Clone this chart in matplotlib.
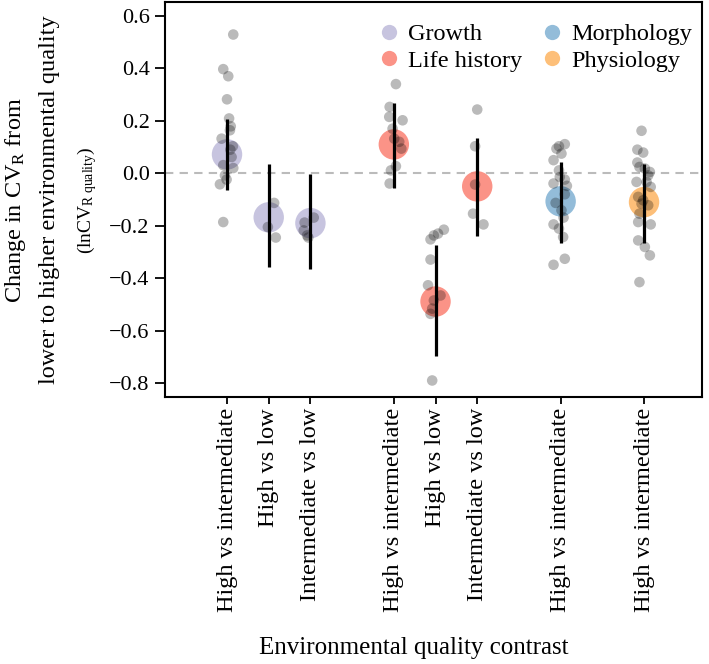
import matplotlib
matplotlib.use("Agg")
import matplotlib.pyplot as plt
from matplotlib.lines import Line2D

plt.rcParams['font.family'] = ['Liberation Serif', 'DejaVu Serif']
plt.rcParams['mathtext.fontset'] = 'custom'
plt.rcParams['mathtext.rm'] = 'Liberation Serif'
plt.rcParams['mathtext.it'] = 'Liberation Serif:italic'
plt.rcParams['axes.unicode_minus'] = True

# Data
positions = [1, 2, 3, 5, 6, 7, 9, 11]
tick_labels = ["High vs intermediate", "High vs low", "Intermediate vs low",
               "High vs intermediate", "High vs low", "Intermediate vs low",
               "High vs intermediate", "High vs intermediate"]
traits = ["Growth", "Growth", "Growth",
          "Life history", "Life history", "Life history",
          "Morphology", "Physiology"]
means = [0.072, -0.168, -0.190, 0.110, -0.489, -0.050, -0.107, -0.110]
ci_lo = [-0.065, -0.359, -0.366, -0.058, -0.698, -0.240, -0.264, -0.267]
ci_hi = [0.206, 0.034, -0.004, 0.267, -0.275, 0.134, 0.042, 0.034]

# individual effect sizes (y) and horizontal jitter
g1_y = [0.529, 0.397, 0.370, 0.282, 0.209, 0.179, 0.164, 0.132, 0.103, 0.062,
        0.031, 0.020, -0.008, -0.024, -0.042, -0.186, 0.090]
g1_dx = [0.15, -0.09, 0.03, 0.0, 0.05, 0.09, 0.07, -0.13, 0.14, 0.11,
         -0.09, 0.15, -0.05, -0.01, -0.17, -0.09, 0.08]
g2_y = [-0.113, -0.205, -0.245]
g2_dx = [0.13, -0.02, 0.17]
g3_y = [-0.169, -0.188, -0.218, -0.237, -0.245]
g3_dx = [0.08, -0.14, -0.16, -0.08, -0.05]
g4_y = [0.340, 0.253, 0.215, 0.202, 0.170, 0.132, 0.120, 0.094, 0.027, 0.011, -0.039]
g4_dx = [0.05, -0.10, -0.11, 0.21, -0.03, 0.01, 0.13, 0.18, 0.05, -0.07, -0.10]
g5_y = [-0.215, -0.230, -0.237, -0.252, -0.329, -0.427, -0.466, -0.485, -0.516,
        -0.536, -0.790]
g5_dx = [0.20, 0.06, -0.04, -0.12, -0.12, -0.18, 0.12, -0.04, -0.08, -0.12, -0.08]
g6_y = [0.243, 0.103, -0.043, -0.154, -0.195]
g6_dx = [0.0, -0.05, -0.05, -0.10, 0.15]
g7_y = [0.111, 0.103, 0.094, 0.075, 0.050, 0.011, -0.014, -0.024, -0.039, -0.048,
        -0.080, -0.113, -0.141, -0.169, -0.195, -0.211, -0.243, -0.326, -0.349]
g7_dx = [0.10, -0.04, -0.10, 0.02, -0.17, -0.04, -0.02, 0.10, -0.17, 0.15,
         0.10, -0.12, 0.02, 0.07, -0.17, -0.04, 0.06, 0.10, -0.17]
g8_y = [0.162, 0.090, 0.079, 0.041, 0.024, 0.018, 0.005, -0.008, -0.033, -0.033,
        -0.052, -0.090, -0.103, -0.116, -0.122, -0.154, -0.186, -0.195, -0.256,
        -0.281, -0.313, -0.415]
g8_dx = [-0.06, -0.16, -0.02, -0.16, -0.11, 0.02, 0.14, 0.10, -0.18, 0.06,
         0.16, -0.14, -0.02, -0.06, 0.10, -0.11, -0.14, 0.16, -0.14, 0.02,
         0.14, -0.11]

points_y = [g1_y, g2_y, g3_y, g4_y, g5_y, g6_y, g7_y, g8_y]
points_dx = [g1_dx, g2_dx, g3_dx, g4_dx, g5_dx, g6_dx, g7_dx, g8_dx]

trait_colors = {"Growth": "#BEBADA", "Life history": "#FB8072",
                "Morphology": "#80B1D3", "Physiology": "#FDB462"}
legend_order = ["Growth", "Life history", "Morphology", "Physiology"]

fig = plt.figure(figsize=(7.09, 6.64), dpi=100)
ax = fig.add_axes([165 / 709, 1 - 397 / 664, (702 - 165) / 709, (397 - 2) / 664])

ax.axhline(0, color="#bbbbbb", lw=1.5, ls=(0, (4, 3)), zorder=0)

for pos, tr, m, lo, hi, ys, dxs in zip(positions, traits, means, ci_lo, ci_hi,
                                       points_y, points_dx):
    ax.scatter([pos], [m], s=480, color=trait_colors[tr], alpha=0.85,
               edgecolors="none", zorder=2)
    ax.vlines(pos, lo, hi, color="black", lw=2.3, zorder=3)
    ax.scatter([pos + d for d in dxs], ys, s=58, color="black", alpha=0.27,
               edgecolors="none", zorder=4)

ax.set_xlim(-0.487, 12.39)
ax.set_ylim(-0.853, 0.653)
ax.set_yticks([-0.8, -0.6, -0.4, -0.2, 0.0, 0.2, 0.4, 0.6])
ax.set_yticklabels([f"{v:.1f}".replace("-", "\u2212") for v in ax.get_yticks()],
                   fontsize=16)
ax.set_xticks(positions)
ax.set_xticklabels(tick_labels, rotation=90, fontsize=17.5)
ax.tick_params(axis="y", length=7, width=1.3, pad=4)
ax.tick_params(axis="x", length=5, width=1.3, pad=3)
for sp in ax.spines.values():
    sp.set_linewidth(1.5)

handles = [Line2D([], [], marker="o", ls="none", markersize=11,
                  markerfacecolor=trait_colors[t], markeredgecolor="none",
                  alpha=0.85) for t in legend_order]
ax.legend(handles, legend_order, ncol=2, loc="upper right", frameon=False,
          fontsize=17.5, handletextpad=0.2, columnspacing=0.6,
          labelspacing=0.2, borderaxespad=0.3, handlelength=1.2,
          bbox_to_anchor=(1.0 + 7 / 537, 1.0 - 4 / 395))

yc = 1 - 200 / 664
fig.text(16 / 709, yc, "Change in CV$_\\mathrm{R}$ from", rotation=90,
         ha="center", va="center", fontsize=17.5)
fig.text(50 / 709, yc, "lower to higher environmental quality", rotation=90,
         ha="center", va="center", fontsize=17.5)
fig.text(87 / 709, yc, "(lnCV$_\\mathrm{R\\ quality}$)", rotation=90,
         ha="center", va="center", fontsize=14)
fig.text(414 / 709, 1 - 648 / 664, "Environmental quality contrast",
         ha="center", va="center", fontsize=18)

fig.savefig("out.png", dpi=100)
